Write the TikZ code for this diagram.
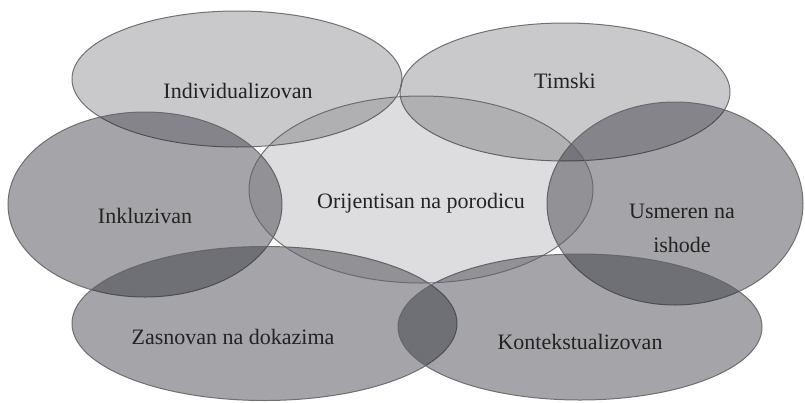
\documentclass[tikz,border=0pt]{standalone}
\usepackage{fontspec}
\setmainfont{Liberation Serif}
\usetikzlibrary{shapes.geometric}
\definecolor{rimgrey}{RGB}{100,100,106}
\definecolor{inkgrey}{RGB}{30,30,40}
\definecolor{txtgrey}{RGB}{35,35,35}
\tikzset{
  petal/.style={ellipse, draw=rimgrey, draw opacity=0.9, line width=1pt, inner sep=0pt, fill=inkgrey},
  lightpetal/.style={petal, fill opacity=0.24},
  darkpetal/.style={petal, fill opacity=0.40},
  corepetal/.style={petal, fill opacity=0.15},
  caption/.style={font=\fontsize{22}{34}\selectfont, text=txtgrey, align=center, anchor=base}
}

\begin{document}
\begin{tikzpicture}[x=1pt, y=-1pt]
    \useasboundingbox (0,0) rectangle (805,402);

    % Upper ring
    \node[lightpetal, minimum width=330pt, minimum height=136pt] (indiv) at (237,79) {};
    \node[lightpetal, minimum width=330pt, minimum height=138pt] (tim) at (565,92) {};

    % Side ring
    \node[darkpetal, minimum width=274pt, minimum height=185pt] (inkl) at (145,204.5) {};
    \node[darkpetal, minimum width=256pt, minimum height=203pt] (ishod) at (675,203.5) {};

    % Lower ring
    \node[darkpetal, minimum width=385pt, minimum height=154pt] (dokaz) at (264.5,323.5) {};
    \node[darkpetal, minimum width=364pt, minimum height=146pt] (kontekst) at (580,327) {};

    % Centre
    \node[corepetal, minimum width=344pt, minimum height=187pt] (porod) at (421,189.5) {};

    % Labels
    \node[caption] (indivtxt) at (238,98) {Individualizovan};
    \node[caption] (timtxt) at (565,88) {Timski};
    \node[caption] (inkltxt) at (145,223) {Inkluzivan};
    \node[caption] (porodtxt) at (421,208) {Orijentisan na porodicu};
    \node[caption] (ishodtxt) at (682,252) {Usmeren na\\ishode};
    \node[caption] (dokaztxt) at (233,344) {Zasnovan na dokazima};
    \node[caption] (kontekstxt) at (580,349) {Kontekstualizovan};
\end{tikzpicture}
\end{document}
